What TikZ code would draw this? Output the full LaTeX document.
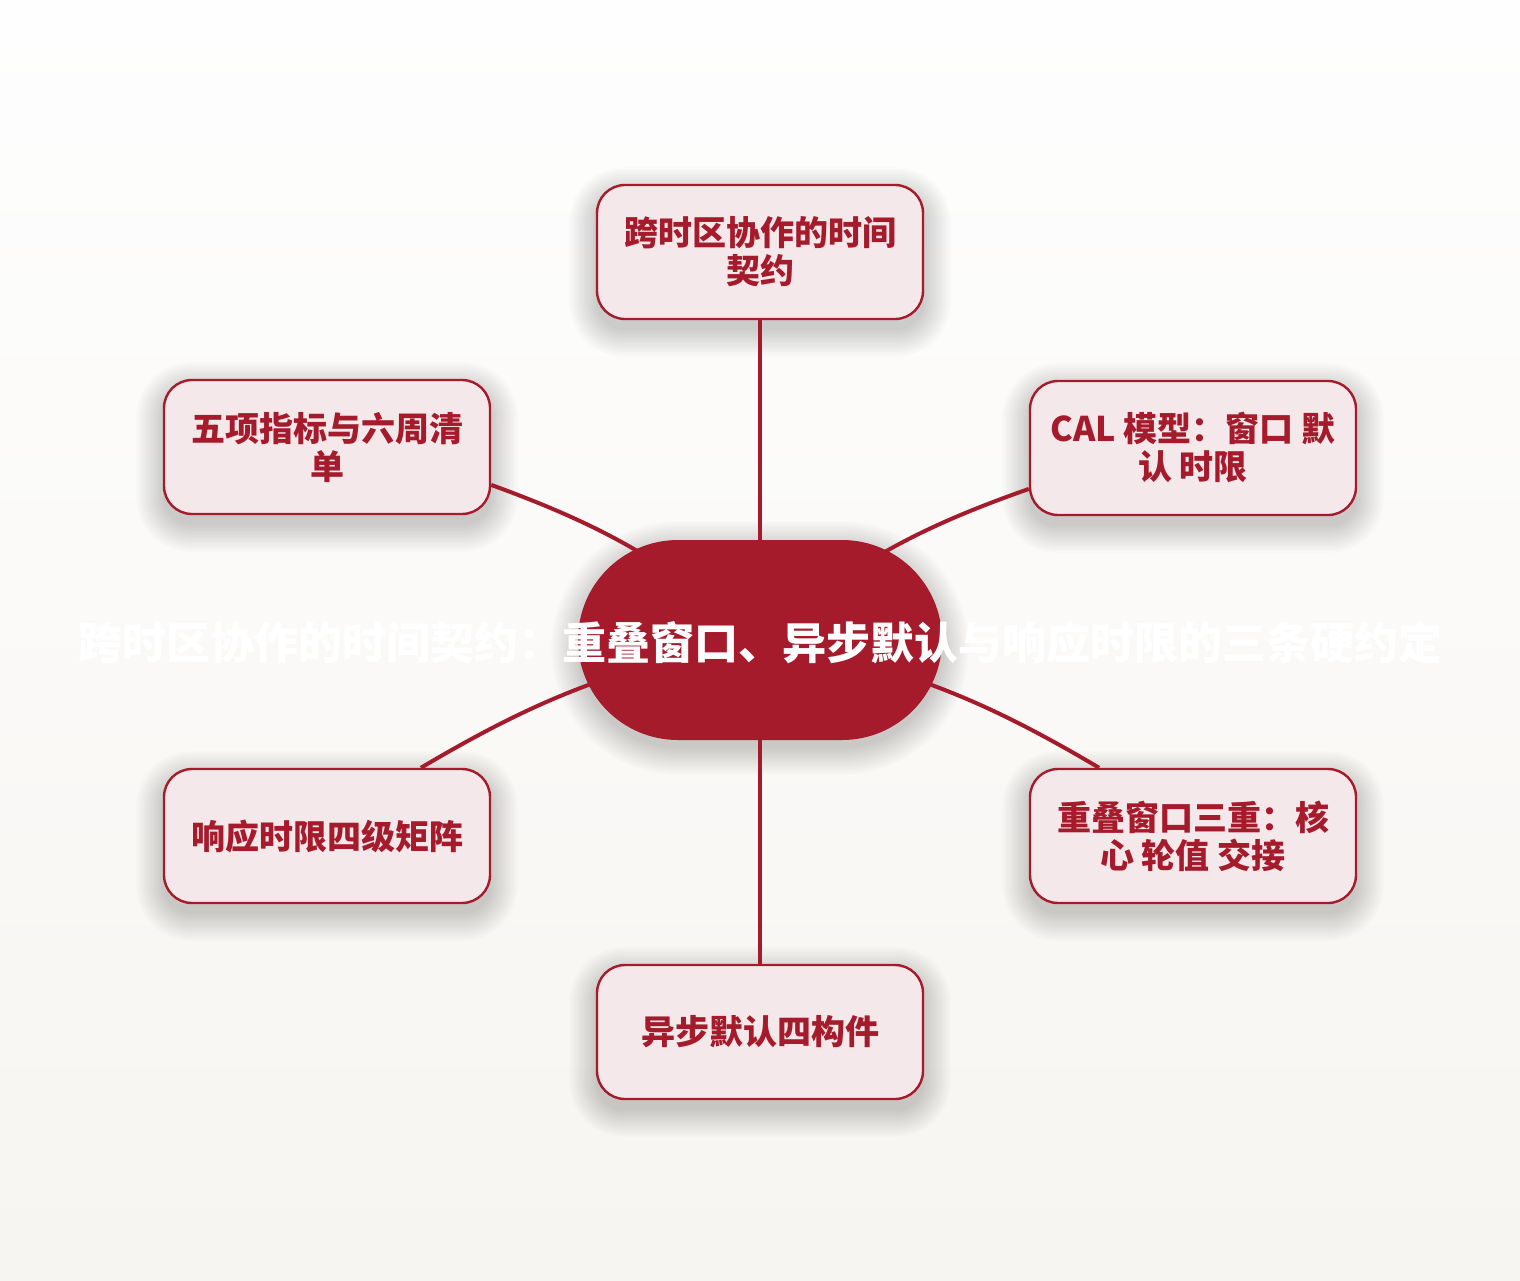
\documentclass[tikz,border=0pt]{standalone}
\usepackage{fontspec}
\setmainfont{Noto Sans CJK SC}
\definecolor{brand}{HTML}{A51B2B}
\definecolor{boxfill}{HTML}{F4E8EB}
\definecolor{bgtop}{HTML}{FEFEFE}
\definecolor{bgbot}{HTML}{F7F5F1}
\pgfdeclarelayer{bgl}
\pgfdeclarelayer{shad}
\pgfdeclarelayer{edges}
\pgfsetlayers{bgl,shad,edges,main}
\tikzset{
  sat/.style={draw=brand, line width=2.4pt, fill=boxfill, rounded corners=28pt,
    minimum width=326pt, minimum height=134pt, inner sep=0pt, align=center,
    text=brand, font=\fontsize{34}{38}\selectfont\bfseries},
  hub/.style={fill=brand, rounded corners=100pt, minimum width=364pt, minimum height=200pt,
    inner sep=0pt},
  hubtext/.style={text=white, font=\fontsize{44}{48}\selectfont\bfseries, inner sep=0pt},
  link/.style={draw=brand, line width=4pt},
  shadowpiece/.style={fill=black, opacity=0.016}
}
\newcommand{\softshadow}[3]{%
  \foreach \k in {0,...,11}{%
    \pgfmathsetmacro{\grow}{\k*2.4}%
    \pgfmathsetmacro{\rad}{#2+\k*2.4}%
    \fill[shadowpiece, rounded corners=\rad pt]
      ([xshift=-\grow pt, yshift=-#3pt-\grow pt]#1.south west) rectangle
      ([xshift=\grow pt, yshift=-#3pt+\grow pt]#1.north east);
  }}
\begin{document}
\begin{tikzpicture}[x=1pt,y=-1pt]
\begin{pgfonlayer}{bgl}
\shade[top color=bgtop, bottom color=bgbot] (0,0) rectangle (1520,1280);
\end{pgfonlayer}
\useasboundingbox (0,0) rectangle (1520,1280);
\node[hub] (c) at (760,640) {};
\node[hubtext] (ct) at (760,643) {跨时区协作的时间契约：重叠窗口、异步默认与响应时限的三条硬约定};
\node[sat] (t) at (760,252) {跨时区协作的时间\\契约};
\node[sat] (ur) at (1193,448) {CAL 模型：窗口 默\\认 时限};
\node[sat] (lr) at (1193,836) {重叠窗口三重：核\\心 轮值 交接};
\node[sat] (b) at (760,1032) {异步默认四构件};
\node[sat] (ll) at (327,836) {响应时限四级矩阵};
\node[sat] (ul) at (327,447) {五项指标与六周清\\单};
\begin{pgfonlayer}{shad}
\softshadow{c}{100}{8}
\softshadow{t}{28}{10}
\softshadow{ur}{28}{10}
\softshadow{lr}{28}{10}
\softshadow{b}{28}{10}
\softshadow{ll}{28}{10}
\softshadow{ul}{28}{10}
\end{pgfonlayer}
\begin{pgfonlayer}{edges}
\draw[link] (c.center) -- (t.south);
\draw[link] (c.center) -- (b.north);
\draw[link] (c.center) to[bend left=10] (ur.194);
\draw[link] (c.center) to[bend left=10] (lr.144);
\draw[link] (c.center) to[bend right=10] (ll.36);
\draw[link] (c.center) to[bend right=10] (ul.-13.5);
\end{pgfonlayer}
\end{tikzpicture}
\end{document}
